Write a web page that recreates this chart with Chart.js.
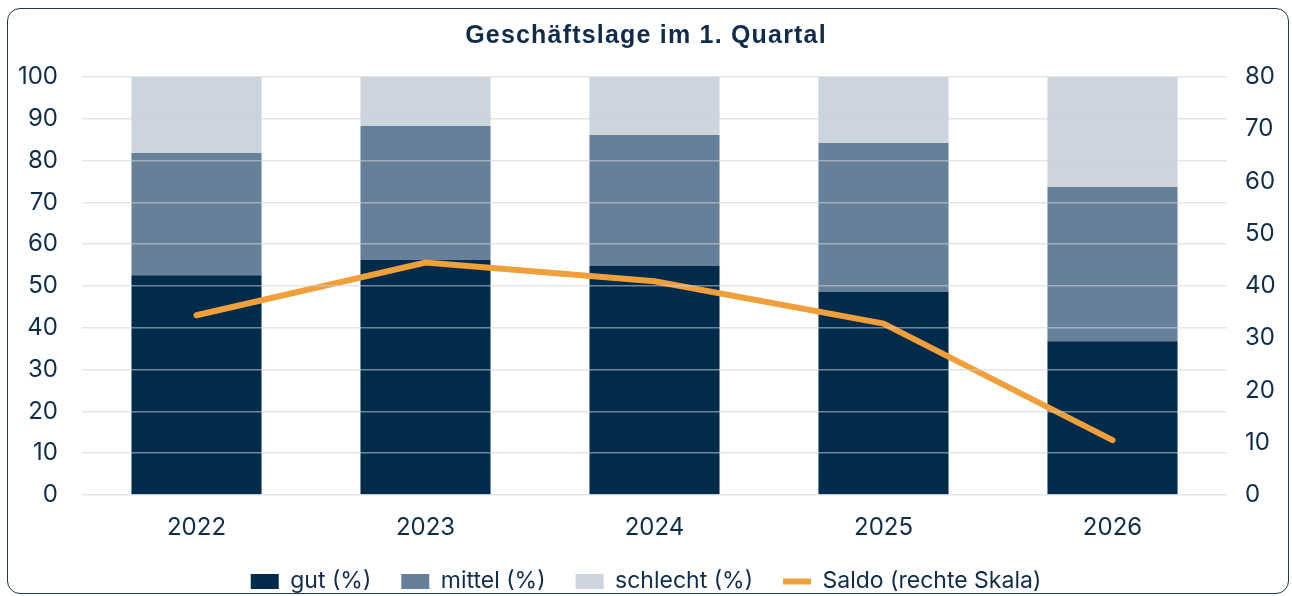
<!DOCTYPE html>
<html>
<head>
<meta charset="utf-8">
<script src="https://cdn.jsdelivr.net/npm/chart.js@4"></script>
<style>
  html, body { margin: 0; padding: 0; background: #fff; }
  #wrap { position: relative; width: 1292px; height: 596px; }
  #frame {
    position: absolute; left: 7px; top: 8px; width: 1280px; height: 584px;
    border: 1.5px solid #1e3a55; border-radius: 13px; pointer-events: none;
  }
</style>
</head>
<body>
<div id="wrap">
  <canvas id="myChart" width="1292" height="596"></canvas>
  <div id="frame"></div>
</div>
<script>
  const years = ['2022', '2023', '2024', '2025', '2026'];
  const gut = [52.6, 56.2, 54.8, 48.6, 36.8];
  const mittel = [29.2, 32.1, 31.3, 35.6, 36.9];
  const schlecht = [18.2, 11.7, 13.9, 15.8, 26.3];
  const saldo = [34.4, 44.5, 40.9, 32.8, 10.5];

  const textColor = '#0f2d4b';
  const font = 'Inter';

  // title drawn with a bit of letter spacing, like the original
  const spacedTitle = {
    id: 'spacedTitle',
    afterLayout(chart) {
      const t = chart.titleBlock;
      if (!t || t._spaced) return;
      const orig = t.draw.bind(t);
      t.draw = function () {
        const c = chart.ctx;
        c.save();
        c.letterSpacing = '1.2px';
        orig();
        c.restore();
      };
      t._spaced = true;
    }
  };

  const data = {
    labels: years,
    datasets: [
      {
        label: 'gut (%)',
        data: gut,
        backgroundColor: '#012b4b',
        pointStyle: 'rect',
        order: 1
      },
      {
        label: 'mittel (%)',
        data: mittel,
        backgroundColor: '#66809a',
        pointStyle: 'rect',
        order: 1
      },
      {
        label: 'schlecht (%)',
        data: schlecht,
        backgroundColor: '#ccd4dd',
        pointStyle: 'rect',
        order: 1
      },
      {
        type: 'line',
        label: 'Saldo (rechte Skala)',
        data: saldo,
        yAxisID: 'y1',
        borderColor: '#f0a03a',
        backgroundColor: '#f0a03a',
        borderWidth: 6,
        borderCapStyle: 'round',
        pointRadius: 0,
        pointStyle: 'line',
        tension: 0,
        order: 0
      }
    ]
  };

  const config = {
    type: 'bar',
    data: data,
    plugins: [spacedTitle],
    options: {
      responsive: false,
      animation: false,
      layout: {
        padding: { left: 0, right: 0, top: 0, bottom: -7 }
      },
      datasets: {
        bar: { categoryPercentage: 1, barPercentage: 0.568 }
      },
      scales: {
        x: {
          stacked: true,
          afterFit: (scale) => { scale.height = 45; },
          grid: { display: false, drawTicks: false },
          border: { display: false },
          ticks: { color: textColor, padding: 18, font: { family: font, size: 24 } }
        },
        y: {
          stacked: true,
          min: 0,
          max: 100,
          position: 'left',
          afterFit: (scale) => { scale.width = 82; },
          grid: { color: 'rgba(205,210,222,0.55)', lineWidth: 1.5, drawTicks: false, z: 1 },
          border: { display: false },
          ticks: { stepSize: 10, color: textColor, padding: 24, font: { family: font, size: 24 } }
        },
        y1: {
          min: 0,
          max: 80,
          position: 'right',
          afterFit: (scale) => { scale.width = 65; },
          grid: { display: false, drawTicks: false },
          border: { display: false },
          ticks: { stepSize: 10, color: textColor, padding: 18, font: { family: font, size: 24 } }
        }
      },
      plugins: {
        title: {
          display: true,
          text: 'Geschäftslage im 1. Quartal',
          color: textColor,
          font: { family: 'Liberation Sans', size: 25, weight: 'bold' },
          padding: { top: 21, bottom: 26 }
        },
        legend: {
          position: 'bottom',
          labels: {
            color: textColor,
            usePointStyle: true,
            pointStyleWidth: 28,
            boxHeight: 15,
            padding: 30,
            font: { family: font, size: 23 },
            sort: (a, b) => a.datasetIndex - b.datasetIndex
          }
        },
        tooltip: { enabled: false }
      }
    }
  };

  const myChart = new Chart(
    document.getElementById('myChart'),
    config
  );
</script>
</body>
</html>
